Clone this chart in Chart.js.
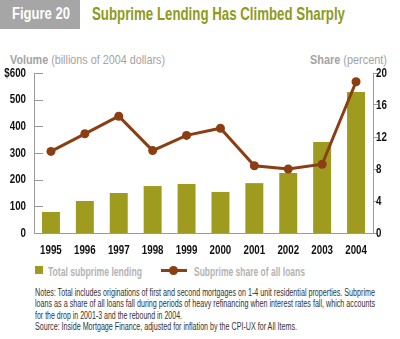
<!DOCTYPE html>
<html>
<head>
<meta charset="utf-8">
<script src="https://cdn.jsdelivr.net/npm/chart.js@4"></script>
<style>
  html,body{margin:0;padding:0;background:#fff;}
  body{width:400px;height:339px;position:relative;overflow:hidden;font-family:'Liberation Sans',Arial,sans-serif;}
  .t{position:absolute;white-space:nowrap;transform-origin:0 0;}
  .fig{position:absolute;left:0;top:0;width:80px;height:29px;background:#a6a6a6;}
  .figt{color:#fff;font-weight:bold;font-size:16px;top:5px;left:12px;}
  .title{left:92px;top:3px;color:#8e9a1c;font-weight:bold;font-size:19px;}
  .axt{top:53px;color:#a3a3a3;font-size:12px;}
  .axt b{font-weight:bold;}
  .leg{top:265px;color:#b3b3b3;font-weight:bold;font-size:12px;}
  .sq{position:absolute;left:35px;top:266px;width:8px;height:8px;background:#9e9b1f;}
  .ln{position:absolute;left:161px;top:269px;width:26px;height:3px;background:#8b3e12;}
  .dot{position:absolute;left:169px;top:266px;width:9px;height:9px;border-radius:50%;background:#8b3e12;}
  .nl{left:35px;color:#333;font-size:10px;}
  canvas{position:absolute;left:0;top:50px;}
</style>
</head>
<body>
<div class="fig"></div>
<div class="t figt" data-w="58">Figure 20</div>
<div class="t title" data-w="253">Subprime Lending Has Climbed Sharply</div>
<div class="t axt" style="left:10px;" data-w="155"><b>Volume</b> (billions of 2004 dollars)</div>
<div class="t axt" style="left:310px;" data-w="77"><b>Share</b> (percent)</div>
<canvas id="c" width="400" height="212"></canvas>
<div class="sq"></div>
<div class="t leg" style="left:48px;" data-w="94">Total subprime lending</div>
<div class="ln"></div><div class="dot"></div>
<div class="t leg" style="left:194px;" data-w="111">Subprime share of all loans</div>
<div class="t nl" style="top:287px;" data-w="340">Notes: Total includes originations of first and second mortgages on 1-4 unit residential properties. Subprime</div>
<div class="t nl" style="top:298px;" data-w="340">loans as a share of all loans fall during periods of heavy refinancing when interest rates fall, which accounts</div>
<div class="t nl" style="top:310px;" data-w="147">for the drop in 2001-3 and the rebound in 2004.</div>
<div class="t nl" style="top:321px;" data-w="262">Source: Inside Mortgage Finance, adjusted for inflation by the CPI-UX for All Items.</div>
<script>
document.querySelectorAll('[data-w]').forEach(el=>{
  const w = el.getBoundingClientRect().width;
  el.style.transform = 'scaleX(' + (parseFloat(el.dataset.w)/w) + ')';
});

const years = ['1995','1996','1997','1998','1999','2000','2001','2002','2003','2004'];
const volume = [79, 120, 150, 176, 184, 154, 187, 225, 341, 529];
const share = [10.2, 12.4, 14.6, 10.3, 12.2, 13.1, 8.4, 8.0, 8.6, 18.9];
const volumeTicks = [0, 100, 200, 300, 400, 500, 600];
const shareTicks = [0, 4, 8, 12, 16, 20];

const tickFont = {family:"'Liberation Sans',Arial,sans-serif", size:11, weight:'bold'};

// draws the axes' own tick labels in a condensed style, plus inner tick marks on the left axis
const axisDecor = {
  id:'axisDecor',
  afterDraw(chart){
    const ctx = chart.ctx;
    const sx = chart.scales.x, sy = chart.scales.y, sy1 = chart.scales.y1;
    ctx.save();
    ctx.strokeStyle = '#9a9a9a'; ctx.lineWidth = 1;
    sy.ticks.forEach(t=>{
      const y = Math.round(sy.getPixelForValue(t.value))+0.5;
      ctx.beginPath(); ctx.moveTo(sy.right, y); ctx.lineTo(sy.right+9, y); ctx.stroke();
    });
    ctx.fillStyle = '#111';
    ctx.font = "bold 13px 'Liberation Sans', Arial, sans-serif";
    ctx.textBaseline = 'middle';
    const put = (txt, x, y, align)=>{
      ctx.save(); ctx.translate(x, y); ctx.scale(0.75, 1);
      ctx.textAlign = align; ctx.fillText(txt, 0, 0); ctx.restore();
    };
    sx.ticks.forEach((t,i)=> put(String(sx.getLabelForValue(t.value)), sx.getPixelForTick(i), sx.top + 17, 'center'));
    sy.ticks.forEach((t,i)=> put(t.label, sy.right - 8, sy.getPixelForValue(t.value), 'right'));
    sy1.ticks.forEach((t,i)=> put(t.label, sy1.left + 3, sy1.getPixelForValue(t.value), 'left'));
    ctx.restore();
  }
};

new Chart(document.getElementById('c'), {
  data:{
    labels: years,
    datasets:[
      {type:'line', data:share, yAxisID:'y1', borderColor:'#8b3e12', backgroundColor:'#8b3e12', borderWidth:3, pointRadius:4.5, pointBackgroundColor:'#8b3e12', pointBorderWidth:0, tension:0, order:1},
      {type:'bar', data:volume, yAxisID:'y', backgroundColor:'#9e9b1f', barPercentage:0.53, categoryPercentage:1, order:2}
    ]
  },
  options:{
    responsive:false, animation:false, devicePixelRatio:1,
    layout:{padding:{top:23,left:0,right:0,bottom:0}},
    plugins:{legend:{display:false}, tooltip:{enabled:false}},
    scales:{
      x:{
        grid:{display:false}, border:{display:true,color:'#9a9a9a',width:1},
        ticks:{color:'rgba(0,0,0,0)', font:tickFont, padding:8, maxRotation:0, autoSkip:false},
        afterFit(s){ s.height = 29; }
      },
      y:{
        position:'left', min:0, max:600,
        afterBuildTicks(s){ s.ticks = volumeTicks.map(v=>({value:v})); },
        grid:{display:false}, border:{display:true,color:'#9a9a9a',width:1},
        ticks:{color:'rgba(0,0,0,0)', font:tickFont, padding:8, callback:v=> v===600 ? '$600' : String(v)},
        afterFit(s){ s.width = 34; }
      },
      y1:{
        position:'right', min:0, max:20,
        afterBuildTicks(s){ s.ticks = shareTicks.map(v=>({value:v})); },
        grid:{display:true, drawOnChartArea:false, tickLength:5, color:'#9a9a9a'}, border:{display:true,color:'#9a9a9a',width:1},
        ticks:{color:'rgba(0,0,0,0)', font:tickFont, padding:4},
        afterFit(s){ s.width = 27; }
      }
    }
  },
  plugins:[axisDecor]
});
</script>
</body>
</html>
